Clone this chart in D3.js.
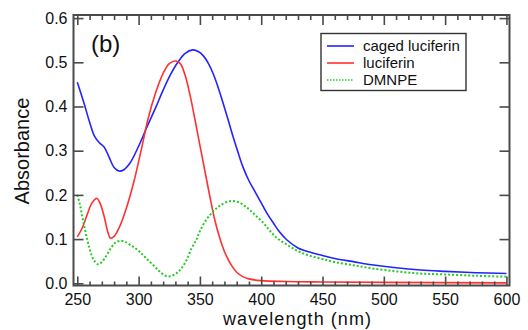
<!DOCTYPE html>
<html><head><meta charset="utf-8">
<script src="https://cdn.jsdelivr.net/npm/d3@7"></script>
<style>body{margin:0;background:#fff}svg{display:block}</style>
</head><body>
<svg id="c" width="528" height="330"></svg>
<script>
const seriesNames = ["caged luciferin", "luciferin", "DMNPE"];
const seriesColors = ["#2323ff", "#ff3030", "#22cc22"];

const cagedX = [250,255,260,264,268,272,276,280,284,288,293,300,307,314,320,326,332,338,344,349,353,357,361,365,369,373,377,381,385,390,395,400,405,410,415,421,430,440,450,460,475,490,510,530,550,575,600];
const cagedY = [0.455,0.412,0.365,0.333,0.318,0.308,0.285,0.262,0.254,0.257,0.272,0.310,0.355,0.398,0.437,0.472,0.500,0.520,0.528,0.524,0.514,0.497,0.473,0.442,0.407,0.370,0.332,0.297,0.264,0.232,0.207,0.182,0.157,0.136,0.116,0.098,0.080,0.070,0.063,0.056,0.049,0.042,0.035,0.030,0.027,0.024,0.022];

const lucX = [250,254,258,262,266,269,272,275,277,280,284,290,296,302,308,314,320,325,330,334,338,342,346,350,354,358,362,366,370,375,380,385,390,400,420,450,500,600];
const lucY = [0.105,0.125,0.155,0.182,0.192,0.178,0.150,0.115,0.102,0.106,0.125,0.170,0.228,0.300,0.375,0.432,0.475,0.497,0.503,0.497,0.470,0.425,0.370,0.312,0.255,0.198,0.145,0.104,0.072,0.044,0.025,0.015,0.010,0.006,0.004,0.003,0.002,0.001];

const dmnpeX = [250,252,254,256,258,260,262,264,267,270,274,278,281,285,289,293,297,301,306,312,317,322,326,331,335,339,343,347,350,355,361,366,372,377,382,387,391,396,402,407,413,420,426,432,440,450,460,475,490,510,530,550,575,600];
const dmnpeY = [0.200,0.180,0.152,0.125,0.100,0.078,0.061,0.050,0.043,0.048,0.064,0.082,0.092,0.096,0.094,0.087,0.080,0.071,0.057,0.041,0.027,0.017,0.016,0.023,0.034,0.052,0.078,0.098,0.118,0.143,0.163,0.175,0.184,0.186,0.183,0.174,0.165,0.152,0.136,0.119,0.102,0.089,0.079,0.070,0.062,0.055,0.048,0.041,0.034,0.027,0.022,0.020,0.017,0.015];

const xMajor = [250,300,350,400,450,500,550,600];
const xMinor = d3.range(250, 601, 10).filter(v => v % 50 !== 0);
const yTicks = [0.0,0.1,0.2,0.3,0.4,0.5,0.6];

const L = 73.5, R = 509.5, T = 15, B = 285.5;
const svg = d3.select("#c");
const x = d3.scaleLinear().domain([246.9, 602.5]).range([L, R]);
const y = d3.scaleLinear().domain([-0.005, 0.607]).range([B, T]);

const axisColor = "#4a4a4a";
const font = "Arial, 'Liberation Sans', sans-serif";

// curves
const line = d3.line().x(d => x(d[0])).y(d => y(d[1])).curve(d3.curveCatmullRom.alpha(0.5));
const series = [
  {x: cagedX, y: cagedY, dash: null},
  {x: lucX, y: lucY, dash: null},
  {x: dmnpeX, y: dmnpeY, dash: "2,2"}
];
series.forEach((s, i) => {
  svg.append("path")
    .datum(s.x.map((v, k) => [v, s.y[k]]))
    .attr("fill", "none")
    .attr("stroke", seriesColors[i])
    .attr("stroke-width", i === 2 ? 2 : 1.6)
    .attr("stroke-dasharray", s.dash)
    .attr("d", line);
});

function styleAxis(g, labels) {
  g.select(".domain").remove();
  g.selectAll(".tick line").attr("stroke", axisColor).attr("stroke-width", 1.6);
  g.selectAll(".tick text").attr("fill", "#111").style("font-family", font).style("font-size", "16px");
  if (!labels) g.selectAll(".tick text").remove();
}

// bottom
svg.append("g").attr("transform", `translate(0,${B})`)
  .call(d3.axisBottom(x).tickValues(xMinor).tickSize(-4).tickFormat(""))
  .call(g => styleAxis(g, false));
svg.append("g").attr("transform", `translate(0,${B})`)
  .call(d3.axisBottom(x).tickValues(xMajor).tickSize(-9).tickPadding(8).tickFormat(d3.format("d")))
  .call(g => styleAxis(g, true));
// top
svg.append("g").attr("transform", `translate(0,${T})`)
  .call(d3.axisTop(x).tickValues(xMinor).tickSize(-5).tickFormat(""))
  .call(g => styleAxis(g, false));
svg.append("g").attr("transform", `translate(0,${T})`)
  .call(d3.axisTop(x).tickValues(xMajor).tickSize(-10).tickFormat(""))
  .call(g => styleAxis(g, false));
// left
svg.append("g").attr("transform", `translate(${L},0)`)
  .call(d3.axisLeft(y).tickValues(yTicks).tickSize(-10).tickPadding(6).tickFormat(d3.format(".1f")))
  .call(g => styleAxis(g, true));
// right
svg.append("g").attr("transform", `translate(${R},0)`)
  .call(d3.axisRight(y).tickValues(yTicks.slice(1)).tickSize(-10).tickFormat(""))
  .call(g => styleAxis(g, false));

// frame
svg.append("rect").attr("x", L).attr("y", T).attr("width", R - L).attr("height", B - T)
  .attr("fill", "none").attr("stroke", axisColor).attr("stroke-width", 2);

// axis titles
svg.append("text").attr("x", 297).attr("y", 325)
  .attr("text-anchor", "middle").style("font-family", font).style("font-size", "18px")
  .attr("textLength", 148).attr("lengthAdjust", "spacing")
  .attr("fill", "#111").text("wavelength (nm)");
svg.append("text").attr("transform", "translate(29,151) rotate(-90)")
  .attr("text-anchor", "middle").style("font-family", font).style("font-size", "20px")
  .attr("fill", "#111").text("Absorbance");

// panel label
svg.append("text").attr("x", 91).attr("y", 52).style("font-family", font).style("font-size", "24px")
  .attr("fill", "#111").text("(b)");

// legend
const lg = svg.append("g");
lg.append("rect").attr("x", 321).attr("y", 33.5).attr("width", 145).attr("height", 57)
  .attr("fill", "#fff").attr("stroke", "#333").attr("stroke-width", 1.4);
seriesNames.forEach((n, i) => {
  const yy = 46 + i * 17;
  lg.append("line").attr("x1", 327).attr("x2", 354).attr("y1", yy).attr("y2", yy)
    .attr("stroke", seriesColors[i]).attr("stroke-width", 1.6)
    .attr("stroke-dasharray", i === 2 ? "1.5,1.5" : null);
  lg.append("text").attr("x", 363).attr("y", yy + 5.2).style("font-family", font).style("font-size", "15px")
    .attr("fill", "#111").text(n);
});
</script>
</body></html>
